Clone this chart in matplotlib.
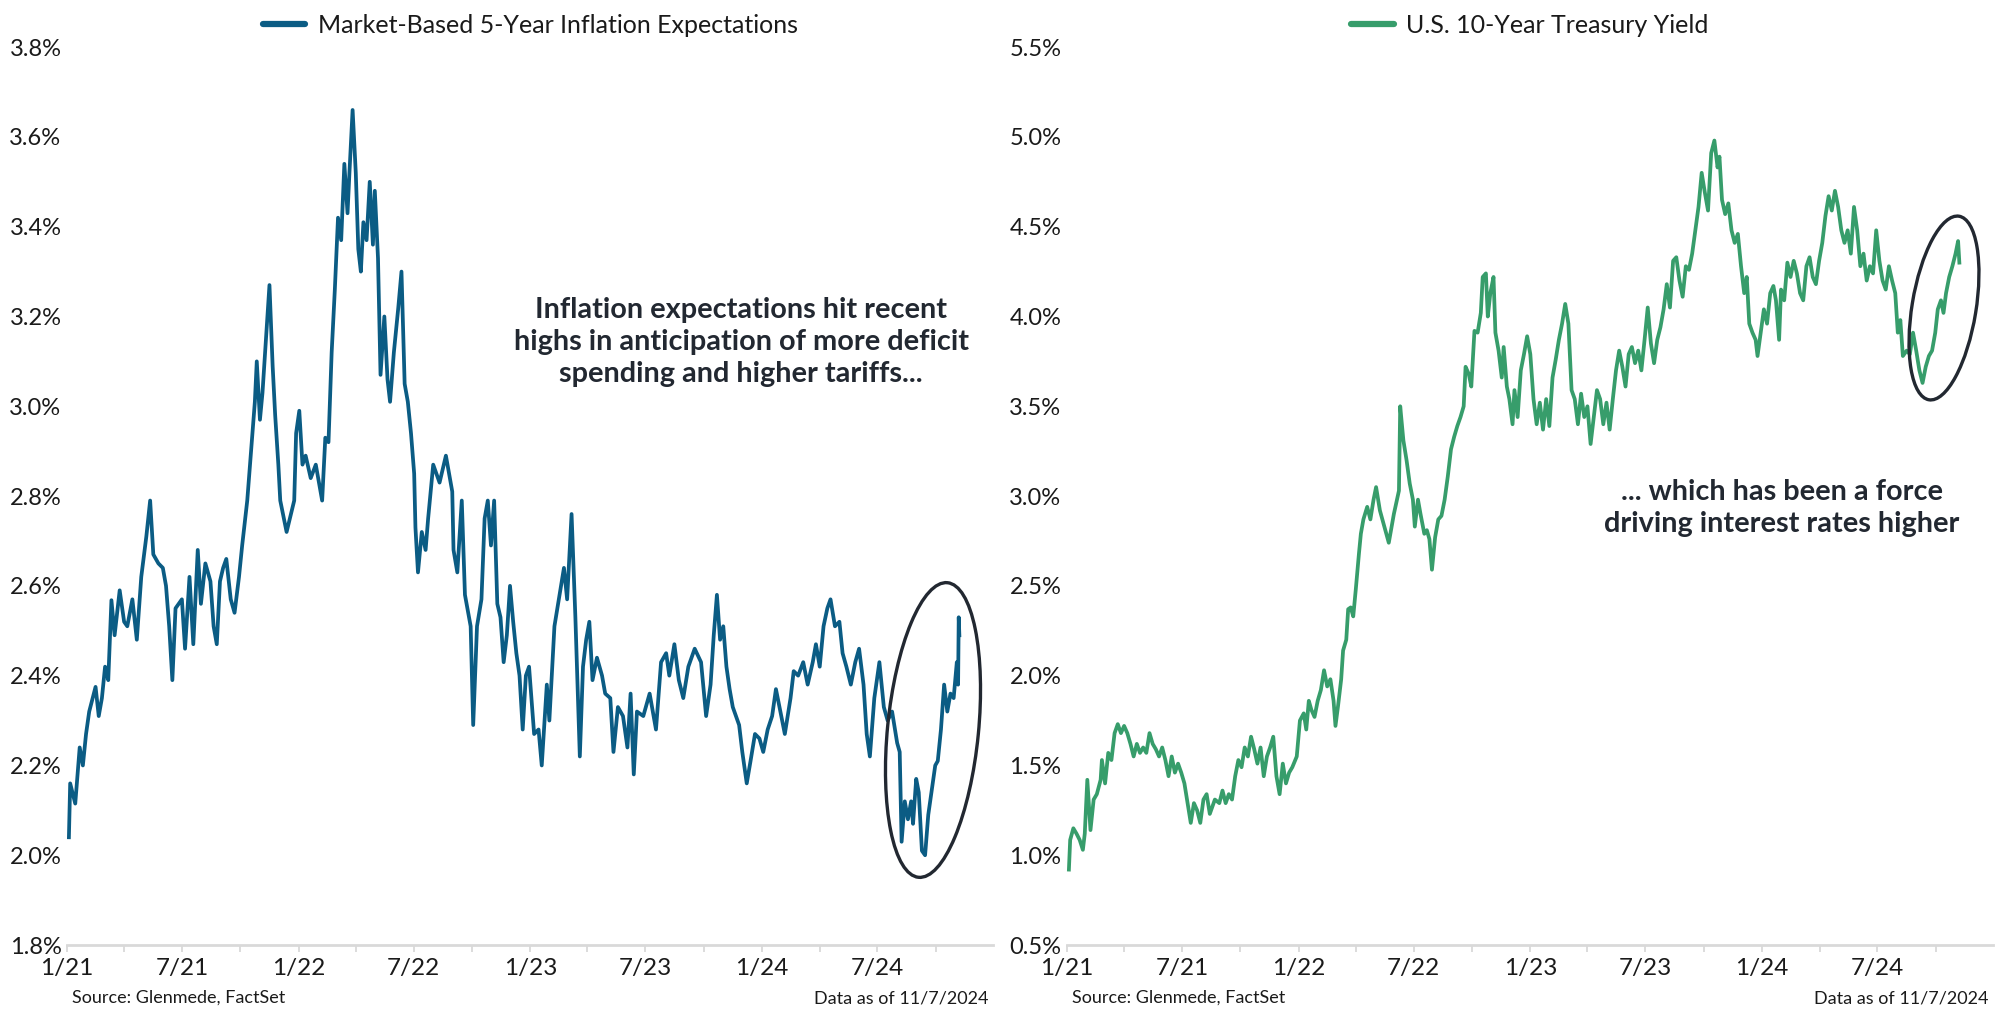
import matplotlib
matplotlib.use("Agg")
import matplotlib.pyplot as plt
import matplotlib.dates as mdates
from matplotlib.patches import Ellipse
from matplotlib.lines import Line2D
from matplotlib.ticker import FuncFormatter
import pandas as pd

plt.rcParams['font.family'] = ['Lato', 'DejaVu Sans']

# ---------------- data ----------------
infl_dates = [
    "2021-01-04","2021-01-06","2021-01-14","2021-01-21","2021-01-26","2021-01-31","2021-02-05","2021-02-15",
    "2021-02-20","2021-02-25","2021-03-02","2021-03-07","2021-03-12","2021-03-17","2021-03-25","2021-04-01",
    "2021-04-06","2021-04-14","2021-04-21","2021-04-28","2021-05-06","2021-05-12","2021-05-17","2021-05-25",
    "2021-06-01","2021-06-06","2021-06-11","2021-06-16","2021-06-21","2021-07-01","2021-07-06","2021-07-13",
    "2021-07-19","2021-07-26","2021-07-31","2021-08-07","2021-08-15","2021-08-20","2021-08-25","2021-08-30",
    "2021-09-04","2021-09-09","2021-09-16","2021-09-22","2021-09-29","2021-10-04","2021-10-12","2021-10-19",
    "2021-10-24","2021-10-27","2021-11-01","2021-11-05","2021-11-11","2021-11-16","2021-11-21","2021-11-25",
    "2021-11-30","2021-12-03","2021-12-13","2021-12-25","2021-12-28","2022-01-02","2022-01-07","2022-01-12",
    "2022-01-20","2022-01-28","2022-02-02","2022-02-07","2022-02-12","2022-02-17","2022-02-22","2022-02-27",
    "2022-03-04","2022-03-09","2022-03-14","2022-03-19","2022-03-22","2022-03-27","2022-04-01","2022-04-05",
    "2022-04-09","2022-04-13","2022-04-18","2022-04-23","2022-04-28","2022-05-01","2022-05-06","2022-05-10",
    "2022-05-16","2022-05-21","2022-05-25","2022-05-31","2022-06-07","2022-06-12","2022-06-17","2022-06-22",
    "2022-06-27","2022-07-02","2022-07-04","2022-07-08","2022-07-14","2022-07-20","2022-07-24","2022-08-01",
    "2022-08-11","2022-08-21","2022-08-26","2022-08-31","2022-09-02","2022-09-08","2022-09-15","2022-09-20",
    "2022-09-29","2022-10-03","2022-10-09","2022-10-16","2022-10-21","2022-10-26","2022-10-31","2022-11-05",
    "2022-11-10","2022-11-15","2022-11-20","2022-11-25","2022-11-30","2022-12-05","2022-12-10","2022-12-15",
    "2022-12-20","2022-12-25","2022-12-30","2023-01-07","2023-01-14","2023-01-19","2023-01-27","2023-01-31",
    "2023-02-08","2023-02-16","2023-02-23","2023-02-28","2023-03-07","2023-03-13","2023-03-17","2023-03-20",
    "2023-03-25","2023-03-30","2023-04-04","2023-04-09","2023-04-16","2023-04-24","2023-04-29","2023-05-07",
    "2023-05-12","2023-05-19","2023-05-27","2023-06-03","2023-06-08","2023-06-13","2023-06-18","2023-06-28",
    "2023-07-08","2023-07-18","2023-07-26","2023-08-03","2023-08-08","2023-08-16","2023-08-23","2023-08-30",
    "2023-09-07","2023-09-17","2023-09-27","2023-10-05","2023-10-12","2023-10-17","2023-10-22","2023-10-27",
    "2023-11-01","2023-11-06","2023-11-11","2023-11-16","2023-11-21","2023-11-26","2023-12-01","2023-12-08",
    "2023-12-14","2023-12-21","2023-12-28","2024-01-03","2024-01-10","2024-01-17","2024-01-23","2024-01-30",
    "2024-02-06","2024-02-15","2024-02-20","2024-02-27","2024-03-06","2024-03-13","2024-03-21","2024-03-26",
    "2024-04-01","2024-04-07","2024-04-13","2024-04-18","2024-04-25","2024-05-02","2024-05-07","2024-05-13",
    "2024-05-20","2024-05-27","2024-06-02","2024-06-09","2024-06-14","2024-06-19","2024-06-26","2024-07-04",
    "2024-07-11","2024-07-17","2024-07-24","2024-08-01","2024-08-05","2024-08-08","2024-08-13","2024-08-18",
    "2024-08-23","2024-08-26","2024-08-31","2024-09-04","2024-09-09","2024-09-14","2024-09-19","2024-09-24",
    "2024-09-30","2024-10-04","2024-10-09","2024-10-14","2024-10-19","2024-10-24","2024-10-29","2024-11-03",
    "2024-11-05","2024-11-06","2024-11-07",
]
infl_values = [
    2.04,2.16,2.115,2.24,2.20,2.27,2.32,2.375,
    2.31,2.35,2.42,2.39,2.568,2.49,2.59,2.52,
    2.51,2.57,2.48,2.62,2.71,2.79,2.67,2.65,
    2.64,2.60,2.51,2.39,2.55,2.57,2.46,2.62,
    2.47,2.68,2.56,2.65,2.61,2.51,2.47,2.61,
    2.64,2.66,2.57,2.54,2.62,2.69,2.79,2.92,
    3.01,3.10,2.97,3.03,3.16,3.27,3.09,2.98,
    2.87,2.79,2.72,2.79,2.94,2.99,2.87,2.89,
    2.84,2.87,2.83,2.79,2.93,2.92,3.12,3.26,
    3.42,3.37,3.54,3.43,3.52,3.66,3.52,3.35,
    3.30,3.41,3.37,3.50,3.36,3.48,3.33,3.07,
    3.20,3.06,3.01,3.12,3.22,3.30,3.05,3.01,
    2.94,2.85,2.73,2.63,2.72,2.68,2.75,2.87,
    2.83,2.89,2.85,2.81,2.68,2.63,2.79,2.58,
    2.51,2.29,2.51,2.57,2.75,2.79,2.69,2.79,
    2.56,2.53,2.43,2.49,2.60,2.52,2.45,2.40,
    2.28,2.40,2.42,2.27,2.28,2.20,2.38,2.30,
    2.51,2.58,2.64,2.57,2.76,2.53,2.35,2.22,
    2.42,2.48,2.52,2.39,2.44,2.40,2.36,2.35,
    2.23,2.33,2.31,2.24,2.36,2.18,2.32,2.31,
    2.36,2.28,2.43,2.45,2.40,2.47,2.39,2.35,
    2.42,2.46,2.43,2.31,2.38,2.49,2.58,2.48,
    2.51,2.42,2.37,2.33,2.31,2.29,2.23,2.16,
    2.21,2.27,2.26,2.23,2.28,2.31,2.37,2.32,
    2.27,2.35,2.41,2.40,2.43,2.38,2.43,2.47,
    2.42,2.51,2.55,2.57,2.51,2.52,2.45,2.42,
    2.38,2.43,2.46,2.38,2.27,2.22,2.35,2.43,
    2.33,2.30,2.32,2.25,2.23,2.03,2.12,2.08,
    2.12,2.07,2.17,2.14,2.01,2.00,2.09,2.14,
    2.20,2.21,2.28,2.38,2.32,2.36,2.35,2.43,
    2.38,2.53,2.49,
]

ust_dates = [
    "2021-01-04","2021-01-06","2021-01-11","2021-01-16","2021-01-21","2021-01-26","2021-01-29","2021-02-02",
    "2021-02-07","2021-02-12","2021-02-17","2021-02-23","2021-02-25","2021-03-02","2021-03-07","2021-03-12",
    "2021-03-17","2021-03-22","2021-03-27","2021-04-01","2021-04-06","2021-04-11","2021-04-16","2021-04-21",
    "2021-04-26","2021-05-01","2021-05-06","2021-05-11","2021-05-16","2021-05-21","2021-05-26","2021-05-31",
    "2021-06-05","2021-06-10","2021-06-15","2021-06-20","2021-06-25","2021-06-30","2021-07-05","2021-07-10",
    "2021-07-15","2021-07-20","2021-07-25","2021-07-30","2021-08-04","2021-08-09","2021-08-14","2021-08-22",
    "2021-08-29","2021-09-03","2021-09-08","2021-09-13","2021-09-18","2021-09-23","2021-09-28","2021-10-03",
    "2021-10-08","2021-10-13","2021-10-18","2021-10-23","2021-10-28","2021-11-02","2021-11-07","2021-11-12",
    "2021-11-17","2021-11-22","2021-11-27","2021-12-02","2021-12-07","2021-12-12","2021-12-17","2021-12-22",
    "2021-12-29","2022-01-03","2022-01-09","2022-01-13","2022-01-17","2022-01-21","2022-01-26","2022-01-31",
    "2022-02-05","2022-02-10","2022-02-15","2022-02-20","2022-02-25","2022-02-28","2022-03-04","2022-03-09",
    "2022-03-12","2022-03-17","2022-03-20","2022-03-24","2022-03-28","2022-04-01","2022-04-06","2022-04-09",
    "2022-04-13","2022-04-19","2022-04-24","2022-04-29","2022-05-03","2022-05-09","2022-05-16","2022-05-23",
    "2022-05-31","2022-06-05","2022-06-08","2022-06-10","2022-06-15","2022-06-20","2022-06-25","2022-06-30",
    "2022-07-03","2022-07-08","2022-07-12","2022-07-18","2022-07-22","2022-07-26","2022-07-30","2022-08-04",
    "2022-08-09","2022-08-14","2022-08-19","2022-08-24","2022-08-29","2022-09-03","2022-09-08","2022-09-13",
    "2022-09-18","2022-09-21","2022-09-26","2022-09-30","2022-10-05","2022-10-10","2022-10-15","2022-10-18",
    "2022-10-23","2022-10-26","2022-10-30","2022-11-04","2022-11-07","2022-11-12","2022-11-17","2022-11-20",
    "2022-11-25","2022-11-29","2022-12-04","2022-12-07","2022-12-12","2022-12-17","2022-12-22","2022-12-27",
    "2023-01-01","2023-01-06","2023-01-11","2023-01-16","2023-01-21","2023-01-26","2023-01-31","2023-02-05",
    "2023-02-10","2023-02-15","2023-02-20","2023-02-25","2023-03-02","2023-03-07","2023-03-12","2023-03-17",
    "2023-03-22","2023-03-27","2023-04-01","2023-04-06","2023-04-11","2023-04-16","2023-04-21","2023-04-26",
    "2023-05-01","2023-05-06","2023-05-11","2023-05-16","2023-05-21","2023-05-26","2023-05-31","2023-06-05",
    "2023-06-10","2023-06-15","2023-06-20","2023-06-25","2023-06-30","2023-07-05","2023-07-10","2023-07-15",
    "2023-07-20","2023-07-25","2023-07-30","2023-08-04","2023-08-09","2023-08-14","2023-08-19","2023-08-24",
    "2023-08-29","2023-09-03","2023-09-08","2023-09-13","2023-09-18","2023-09-23","2023-09-28","2023-10-03",
    "2023-10-08","2023-10-13","2023-10-18","2023-10-23","2023-10-26","2023-10-30","2023-11-04","2023-11-09",
    "2023-11-14","2023-11-19","2023-11-24","2023-11-29","2023-12-04","2023-12-08","2023-12-12","2023-12-17",
    "2023-12-22","2023-12-25","2023-12-30","2024-01-04","2024-01-09","2024-01-14","2024-01-19","2024-01-23",
    "2024-01-28","2024-01-31","2024-02-05","2024-02-10","2024-02-15","2024-02-20","2024-02-25","2024-03-01",
    "2024-03-06","2024-03-11","2024-03-16","2024-03-21","2024-03-26","2024-03-31","2024-04-05","2024-04-10",
    "2024-04-15","2024-04-20","2024-04-25","2024-04-30","2024-05-05","2024-05-10","2024-05-15","2024-05-20",
    "2024-05-25","2024-05-30","2024-06-04","2024-06-09","2024-06-14","2024-06-19","2024-06-24","2024-06-29",
    "2024-07-04","2024-07-09","2024-07-14","2024-07-19","2024-07-24","2024-07-29","2024-08-02","2024-08-06",
    "2024-08-10","2024-08-16","2024-08-21","2024-08-26","2024-08-31","2024-09-05","2024-09-10","2024-09-15",
    "2024-09-20","2024-09-25","2024-09-30","2024-10-04","2024-10-09","2024-10-13","2024-10-17","2024-10-22",
    "2024-10-27","2024-11-01","2024-11-05","2024-11-07",
]
ust_values = [
    0.92,1.085,1.15,1.12,1.085,1.03,1.12,1.42,
    1.14,1.31,1.34,1.42,1.53,1.40,1.57,1.53,
    1.68,1.73,1.68,1.72,1.68,1.62,1.55,1.62,
    1.57,1.60,1.57,1.68,1.62,1.59,1.55,1.60,
    1.53,1.44,1.55,1.46,1.51,1.46,1.40,1.29,
    1.18,1.29,1.25,1.18,1.31,1.34,1.23,1.31,
    1.29,1.36,1.29,1.34,1.31,1.44,1.53,1.49,
    1.60,1.55,1.66,1.59,1.51,1.60,1.44,1.55,
    1.60,1.66,1.44,1.34,1.51,1.40,1.46,1.49,
    1.55,1.75,1.79,1.70,1.86,1.81,1.77,1.86,
    1.92,2.03,1.94,1.98,1.86,1.72,1.83,1.98,
    2.14,2.20,2.37,2.38,2.33,2.48,2.68,2.79,
    2.87,2.94,2.87,2.98,3.05,2.92,2.83,2.74,
    2.90,2.98,3.03,3.50,3.31,3.20,3.07,2.98,
    2.83,2.98,2.90,2.79,2.81,2.76,2.59,2.77,
    2.87,2.89,2.98,3.11,3.26,3.33,3.39,3.44,
    3.50,3.72,3.68,3.61,3.92,3.91,4.02,4.22,
    4.24,4.00,4.13,4.22,3.91,3.81,3.66,3.83,
    3.61,3.54,3.40,3.59,3.44,3.70,3.79,3.89,
    3.79,3.54,3.40,3.52,3.37,3.54,3.39,3.66,
    3.76,3.87,3.96,4.07,3.96,3.59,3.54,3.40,
    3.57,3.44,3.50,3.29,3.44,3.59,3.54,3.40,
    3.52,3.37,3.54,3.70,3.81,3.72,3.61,3.79,
    3.83,3.74,3.81,3.70,3.87,4.05,3.85,3.74,
    3.87,3.94,4.04,4.18,4.05,4.31,4.33,4.20,
    4.11,4.28,4.26,4.35,4.48,4.61,4.80,4.69,
    4.59,4.91,4.98,4.83,4.89,4.65,4.57,4.63,
    4.48,4.41,4.46,4.28,4.13,4.22,3.96,3.91,
    3.87,3.78,3.91,4.04,3.96,4.13,4.17,4.09,
    3.87,4.15,4.09,4.30,4.22,4.31,4.24,4.13,
    4.09,4.28,4.33,4.22,4.18,4.31,4.41,4.56,
    4.67,4.59,4.70,4.61,4.48,4.41,4.48,4.35,
    4.61,4.48,4.28,4.35,4.20,4.28,4.24,4.48,
    4.31,4.20,4.15,4.28,4.20,4.13,3.91,3.98,
    3.78,3.81,3.79,3.91,3.81,3.70,3.63,3.72,
    3.78,3.81,3.91,4.04,4.09,4.02,4.13,4.22,
    4.28,4.35,4.42,4.30,
]

infl_label = "Market-Based 5-Year Inflation Expectations"
ust_label = "U.S. 10-Year Treasury Yield"
infl_ticks = [1.8, 2.0, 2.2, 2.4, 2.6, 2.8, 3.0, 3.2, 3.4, 3.6, 3.8]
ust_ticks = [0.5, 1.0, 1.5, 2.0, 2.5, 3.0, 3.5, 4.0, 4.5, 5.0, 5.5]
x_start, x_end = "2021-01-01", "2024-12-30"
infl_note = "Inflation expectations hit recent\nhighs in anticipation of more deficit\nspending and higher tariffs..."
ust_note = "... which has been a force\ndriving interest rates higher"
source_txt = "Source: Glenmede, FactSet"
asof_txt = "Data as of 11/7/2024"

BLUE = "#0b5c84"
GREEN = "#379d6b"
TXT = "#1a1a1a"
DARK = "#222831"
SPINE = "#d9d9d9"

# ---------------- figure ----------------
fig = plt.figure(figsize=(20, 10.18), dpi=100)
axL = fig.add_axes([0.0335, 0.0717, 0.463, 0.882])
axR = fig.add_axes([0.5335, 0.0717, 0.463, 0.882])


def fmt_x(v, pos):
    d = mdates.num2date(v)
    if d.month in (1, 7):
        return f"{d.month}/{d.strftime('%y')}"
    return ""


def style(ax, ticks, fmt):
    ax.set_xlim(pd.Timestamp(x_start), pd.Timestamp(x_end))
    ax.set_ylim(ticks[0], ticks[-1])
    ax.set_yticks(ticks)
    ax.yaxis.set_major_formatter(FuncFormatter(lambda v, p: fmt.format(v)))
    ax.xaxis.set_major_locator(mdates.MonthLocator(bymonth=[1, 4, 7, 10]))
    ax.xaxis.set_major_formatter(FuncFormatter(fmt_x))
    for s in ("top", "right", "left"):
        ax.spines[s].set_visible(False)
    ax.spines["bottom"].set_color(SPINE)
    ax.spines["bottom"].set_linewidth(2)
    ax.tick_params(axis="y", length=0, pad=4, labelsize=17, labelcolor=TXT)
    ax.tick_params(axis="x", length=5, width=1.3, color=SPINE, pad=4,
                   labelsize=17.5, labelcolor=TXT)
    ax.set_facecolor("white")


style(axL, infl_ticks, "{:.1f}%")
style(axR, ust_ticks, "{:.1f}%")

axL.plot(pd.to_datetime(infl_dates), infl_values, color=BLUE, lw=2.7,
         solid_joinstyle="round", clip_on=False)
axR.plot(pd.to_datetime(ust_dates), ust_values, color=GREEN, lw=2.7,
         solid_joinstyle="round", clip_on=False)

for ax, col, lab in ((axL, BLUE, infl_label), (axR, GREEN, ust_label)):
    h = Line2D([0], [0], color=col, lw=4.5, solid_capstyle="round")
    leg = ax.legend([h], [lab], loc="center", bbox_to_anchor=(0.5, 1.0245),
                    frameon=False, fontsize=18, handlelength=1.7,
                    handletextpad=0.5, borderpad=0, borderaxespad=0)
    for t in leg.get_texts():
        t.set_color(TXT)

axL.text(0.728, 0.6715, infl_note, transform=axL.transAxes, ha="center",
         va="center", fontsize=20.8, fontweight="bold", color=DARK,
         linespacing=1.27, multialignment="center")
axR.text(0.7716, 0.487, ust_note, transform=axR.transAxes, ha="center",
         va="center", fontsize=20.8, fontweight="bold", color=DARK,
         linespacing=1.27, multialignment="center")

# ellipses highlighting the latest moves (figure inches)
fig.patches.append(Ellipse((9.33, 2.88), 0.91, 2.96, angle=-5.6, fill=False,
                           ec=DARK, lw=2.4, transform=fig.dpi_scale_trans))
fig.patches.append(Ellipse((19.44, 7.10), 0.64, 1.86, angle=-9.3, fill=False,
                           ec=DARK, lw=2.4, transform=fig.dpi_scale_trans))

for x0, x1 in ((0.036, 0.494), (0.536, 0.994)):
    fig.text(x0, 0.0196, source_txt, ha="left", va="center", fontsize=13, color=TXT)
    fig.text(x1, 0.0196, asof_txt, ha="right", va="center", fontsize=13, color=TXT)

fig.savefig("out.png", dpi=100, facecolor="white")
